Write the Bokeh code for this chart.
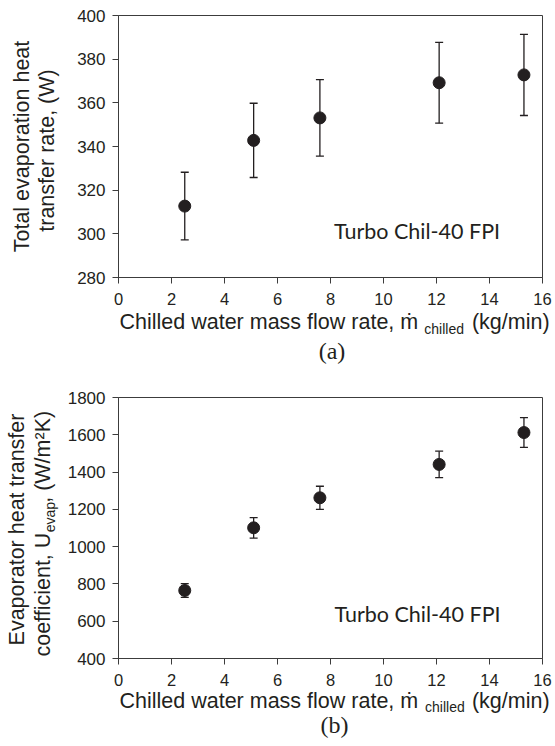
import math
from bokeh.plotting import figure
from bokeh.models import Range1d, Label, Whisker, TeeHead, ColumnDataSource
from bokeh.layouts import column
from bokeh.embed import file_html
from bokeh.resources import INLINE

# ---------------- data ----------------
flow_rate = [2.5, 5.1, 7.6, 12.1, 15.3]          # kg/min
q_evap = [312.7, 342.8, 353.1, 369.2, 372.8]      # W
q_err = [15.5, 17.0, 17.5, 18.5, 18.6]
u_evap = [765, 1101, 1262, 1441, 1612]            # W/m2K
u_err = [37, 55, 62, 71, 80]

x_ticks = [0, 2, 4, 6, 8, 10, 12, 14, 16]
q_ticks = [280, 300, 320, 340, 360, 380, 400]
u_ticks = [400, 600, 800, 1000, 1200, 1400, 1600, 1800]

TEXT = "#231f20"
LINE = "#3c3c3c"
SANS = "Liberation Sans"
SERIF = "Liberation Serif"
ANNOT = "Lato"
TITLE_PX = 21.5
SMALL_PX = 14
NB = "\u00a0"
BASE_SHIFT = 0.42   # empirical baseline correction (em)

# Arial/Liberation Sans advance widths (em)
AW = {'c': .5, 'o': .556, 'e': .556, 'f': .278, 'i': .222, 'n': .556, 't': .278,
      ',': .278, ' ': .278, NB: .278, 'U': .722, 'v': .5, 'a': .556, 'p': .556,
      '(': .333, 'W': .944, '/': .278, 'm': .833, '²': .333, 'K': .667, ')': .333}


def text_width(s, px):
    return sum(AW.get(ch, .556) for ch in s) * px


def make_panel(xv, yv, ev, yticks, W, H, fl, ft, fw, fh):
    p = figure(width=W, height=H, output_backend="svg", toolbar_location=None,
               x_range=Range1d(x_ticks[0], x_ticks[-1]),
               y_range=Range1d(yticks[0], yticks[-1]),
               min_border_left=fl, min_border_top=ft,
               min_border_right=W - fl - fw, min_border_bottom=H - ft - fh)
    p.grid.visible = False
    p.outline_line_color = LINE
    p.outline_line_width = 1
    p.background_fill_color = "white"
    p.border_fill_color = "white"
    p.xaxis.ticker = x_ticks
    p.yaxis.ticker = yticks
    for ax in (p.xaxis, p.yaxis):
        ax.axis_line_color = LINE
        ax.major_tick_line_color = LINE
        ax.major_tick_out = 6
        ax.major_tick_in = 0
        ax.minor_tick_line_color = None
        ax.major_label_text_font = SANS
        ax.major_label_text_color = TEXT
    p.xaxis.major_label_text_font_size = "16.5px"
    p.yaxis.major_label_text_font_size = "17px"
    p.xaxis.major_label_standoff = 9
    p.yaxis.major_label_standoff = 7

    src = ColumnDataSource(dict(
        x=xv, y=yv,
        upper=[a + b for a, b in zip(yv, ev)],
        lower=[a - b for a, b in zip(yv, ev)]))
    wk = Whisker(source=src, base="x", upper="upper", lower="lower",
                 line_color=TEXT, line_width=1.3,
                 upper_head=TeeHead(size=8, line_color=TEXT, line_width=1.3),
                 lower_head=TeeHead(size=8, line_color=TEXT, line_width=1.3))
    p.add_layout(wk)
    p.scatter("x", "y", source=src, size=12, fill_color=TEXT, line_color=TEXT)
    return p


def adder(p, frame, yticks, top):
    """Place labels by page-pixel baseline position, converted to data coords."""
    fx, fy, fw, fh = frame
    x0, x1 = x_ticks[0], x_ticks[-1]
    y0, y1 = yticks[0], yticks[-1]

    def add(X, Y, text, size, side, font=SANS, angle=0.0, align="left"):
        Y = Y - top
        if angle:
            X -= BASE_SHIFT * size
        else:
            Y -= BASE_SHIFT * size
        xd = x0 + (X - fx) / fw * (x1 - x0)
        yd = y1 - (Y - fy) / fh * (y1 - y0)
        p.add_layout(Label(x=xd, y=yd, text=text, text_font=font,
                           text_font_size=f"{size}px", angle=angle,
                           text_align=align, text_baseline="alphabetic",
                           text_color=TEXT), side)
    return add


W = 555
S = 380            # split between the two canvases (page px)
FA = (116, 15, 427, 262)          # frame of (a): left, top, width, height (page px)
FB = (116, 397, 426, 261)         # frame of (b)

XTITLE = "Chilled water mass flow rate," + NB + "ṁ" + NB * 9 + "(kg/min)"

# ---------------- panel (a) ----------------
pa = make_panel(flow_rate, q_evap, q_err, q_ticks, W, S,
                FA[0], FA[1], FA[2], FA[3])
add_a = adder(pa, FA, q_ticks, 0)
add_a(28, 146, "Total evaporation heat", TITLE_PX, "left", angle=math.pi / 2, align="center")
add_a(53, 150, "transfer rate, (W)", TITLE_PX, "left", angle=math.pi / 2, align="center")
add_a(117, 331, XTITLE, TITLE_PX, "below")
add_a(424, 334, "chilled", SMALL_PX, "below")
add_a(331, 361, "(a)", 24, "below", font=SERIF, align="center")
add_a(333, 240, "Turbo Chil-40 FPI", 21.5, "center", font=ANNOT)

# ---------------- panel (b) ----------------
FBc = (FB[0], FB[1] - S, FB[2], FB[3])
pb = make_panel(flow_rate, u_evap, u_err, u_ticks, W, 746 - S,
                FBc[0], FBc[1], FBc[2], FBc[3])
add_b = adder(pb, FBc, u_ticks, S)

add_b(23, 529, "Evaporator heat transfer", TITLE_PX, "left", angle=math.pi / 2, align="center")
head, sub, tail = "coefficient, U", "evap", ", (W/m²K)"
line2 = head + NB * 5 + tail
start = 533 + text_width(line2, TITLE_PX) / 2
add_b(49, start, line2, TITLE_PX, "left", angle=math.pi / 2)
add_b(53, start - text_width(head, TITLE_PX), sub, SMALL_PX, "left", angle=math.pi / 2)

add_b(117, 710, XTITLE, TITLE_PX, "below")
add_b(424, 712, "chilled", SMALL_PX, "above")
add_b(333, 735, "(b)", 24, "below", font=SERIF, align="center")
add_b(333, 623, "Turbo Chil-40 FPI", 21.5, "center", font=ANNOT)

layout = column(pa, pb)
open("out.html", "w").write(file_html(layout, INLINE))
